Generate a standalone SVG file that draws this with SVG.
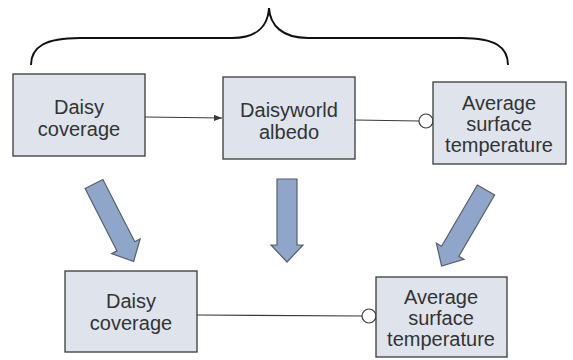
<svg xmlns="http://www.w3.org/2000/svg" width="573" height="360" viewBox="0 0 573 360">
<defs>
<style>
.box{fill:#dfe4ec;stroke:#3a3a3a;stroke-width:1.3}
.lbl{font-family:"Liberation Sans",Arial,sans-serif;font-size:20px;fill:#333;text-anchor:middle}
.con{stroke:#3a3a3a;stroke-width:1.2;fill:none}
.circ{fill:#fff;stroke:#3a3a3a;stroke-width:1.2}
.big{fill:#90a5ca;stroke:#55606e;stroke-width:1.2}
</style>
<marker id="ah" viewBox="0 0 10 10" refX="10" refY="5" markerWidth="8" markerHeight="8" orient="auto" markerUnits="userSpaceOnUse">
<path d="M0,1 L10,5 L0,9 Z" fill="#3a3a3a"/>
</marker>
</defs>
<rect width="573" height="360" fill="#fff"/>
<path class="con" style="stroke:#111;stroke-width:2" d="M31,65 C31,47 45,38 80,38 L232,38 C258,38 268,25 269,8 C270,25 282,38 308,38 L462,38 C495,38 508,47 508,65"/>
<g id="connectors">
<line class="con" x1="145" y1="117" x2="222" y2="118" marker-end="url(#ah)"/>
<line class="con" x1="355" y1="120" x2="419" y2="121"/>
<circle class="circ" cx="426" cy="121" r="7"/>
<line class="con" x1="197" y1="315" x2="362" y2="316"/>
<circle class="circ" cx="369" cy="316" r="7"/>
<path class="big" transform="translate(94,184) rotate(-27.1)" d="M-10,0 L10,0 L10,70 L16,70 L0,87 L-16,70 L-10,70 Z"/>
<path class="big" transform="translate(287,179)" d="M-10,0 L10,0 L10,66 L16,66 L0,83 L-16,66 L-10,66 Z"/>
<path class="big" transform="translate(486,190) rotate(30.3)" d="M-10,0 L10,0 L10,71 L16,71 L0,88 L-16,71 L-10,71 Z"/>
</g>
<g id="n1"><rect class="box" x="13" y="74" width="132" height="82"/><text class="lbl" x="79" y="114">Daisy</text><text class="lbl" x="79" y="136">coverage</text></g>
<g id="n2"><rect class="box" x="223" y="77" width="132" height="82"/><text class="lbl" x="289" y="117">Daisyworld</text><text class="lbl" x="289" y="139">albedo</text></g>
<g id="n3"><rect class="box" x="433" y="82" width="133" height="82"/><text class="lbl" x="499" y="110">Average</text><text class="lbl" x="499" y="131">surface</text><text class="lbl" x="499" y="152">temperature</text></g>
<g id="n4"><rect class="box" x="65" y="271" width="132" height="81"/><text class="lbl" x="131" y="308">Daisy</text><text class="lbl" x="131" y="330">coverage</text></g>
<g id="n5"><rect class="box" x="376" y="277" width="131" height="80"/><text class="lbl" x="441" y="304">Average</text><text class="lbl" x="441" y="325">surface</text><text class="lbl" x="441" y="346">temperature</text></g>
</svg>
